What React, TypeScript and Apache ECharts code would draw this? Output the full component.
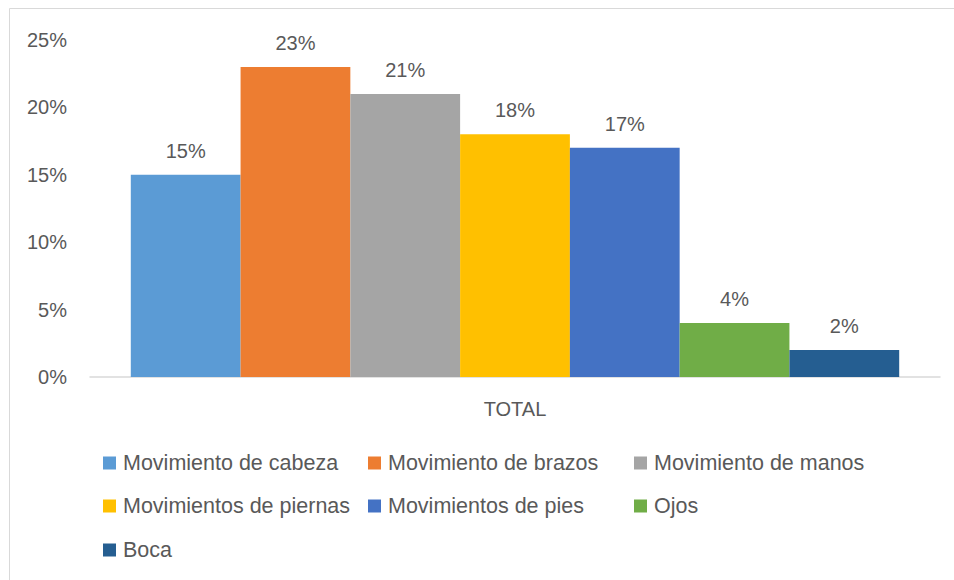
import React, { useEffect, useRef } from "react";
import * as echarts from "echarts";

const categories = ["TOTAL"];
const seriesNames = [
  "Movimiento de cabeza",
  "Movimiento de brazos",
  "Movimiento de manos",
  "Movimientos de piernas",
  "Movimientos de pies",
  "Ojos",
  "Boca",
];
const seriesValues = [15, 23, 21, 18, 17, 4, 2];
const seriesColors = ["#5B9BD5", "#ED7D31", "#A5A5A5", "#FFC000", "#4472C4", "#70AD47", "#255E91"];
const yTicks = [0, 5, 10, 15, 20, 25];

const FONT = "Liberation Sans";
const TEXT = "#595959";

// legend grid: 3 columns, rows
const legendCols = [103, 368, 634];
const legendRows = [463, 506, 550];

export default function App() {
  const ref = useRef<HTMLDivElement>(null);
  useEffect(() => {
    document.body.style.margin = "0";
    const chart = echarts.init(ref.current!, null, { renderer: "svg" });
    const legends = seriesNames.map((name, i) => ({
      data: [name],
      left: legendCols[i % 3],
      top: legendRows[Math.floor(i / 3)] - 12,
      padding: 0,
      itemWidth: 13,
      itemHeight: 13,
      icon: "rect",
      selectedMode: false,
      textStyle: { color: TEXT, fontFamily: FONT, fontSize: 21.5, lineHeight: 24, padding: [0, 0, 0, 2] },
    }));
    chart.setOption({
      animation: false,
      backgroundColor: "#ffffff",
      graphic: [
        {
          type: "rect",
          shape: { x: 9.5, y: 8.5, width: 1000, height: 1000 },
          style: { fill: "none", stroke: "#d9d9d9", lineWidth: 1 },
          silent: true,
        },
      ],
      legend: legends,
      grid: { left: 90, right: 14, top: 40, bottom: 203, containLabel: false },
      xAxis: {
        type: "category",
        data: categories,
        axisLine: { show: true, lineStyle: { color: "#d9d9d9", width: 1.5 } },
        axisTick: { show: false },
        axisLabel: { color: TEXT, fontFamily: FONT, fontSize: 20, margin: 22 },
      },
      yAxis: {
        type: "value",
        min: yTicks[0],
        max: yTicks[yTicks.length - 1],
        interval: 5,
        axisLine: { show: false },
        axisTick: { show: false },
        splitLine: { show: false },
        axisLabel: { color: TEXT, fontFamily: FONT, fontSize: 20, margin: 23, formatter: "{value}%" },
      },
      series: seriesNames.map((name, i) => ({
        name,
        type: "bar",
        data: [seriesValues[i]],
        barGap: "0%",
        barCategoryGap: "9.6%",
        itemStyle: { color: seriesColors[i] },
        label: {
          show: true,
          position: "top",
          distance: 14,
          formatter: "{c}%",
          color: TEXT,
          fontFamily: FONT,
          fontSize: 20,
        },
      })),
    });
    return () => chart.dispose();
  }, []);
  return <div ref={ref} style={{ position: "absolute", left: 0, top: 0, width: 954, height: 580 }} />;
}
